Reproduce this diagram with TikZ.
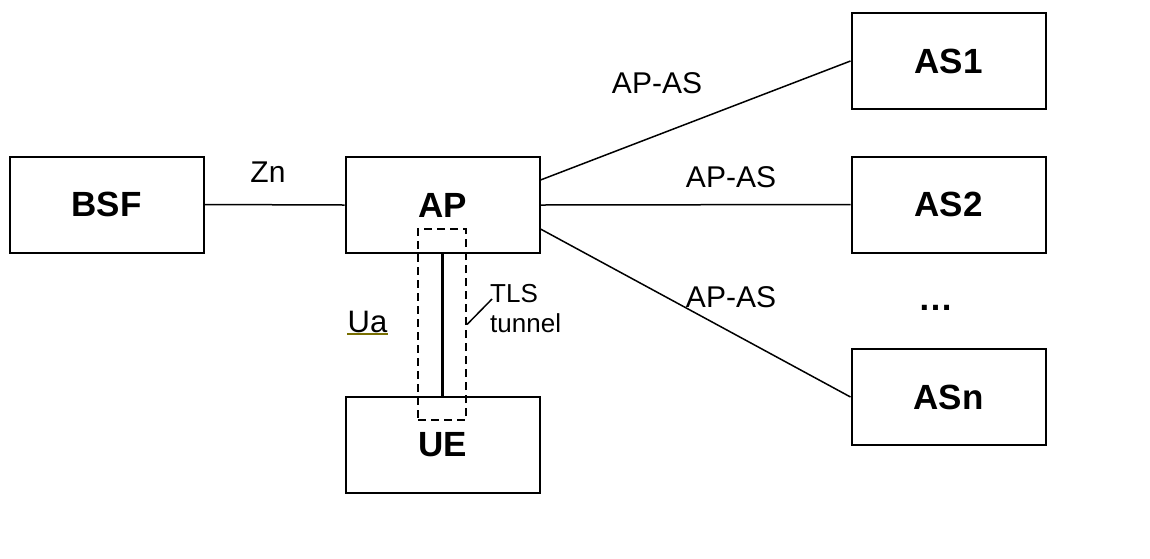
\documentclass[tikz,border=0pt]{standalone}
\usepackage{fontspec}
\setmainfont{Liberation Sans}
\definecolor{uaolive}{RGB}{120,110,0}
\begin{document}
\begin{tikzpicture}[x=1pt, y=-1pt,
        entity/.style={draw, line width=2pt, minimum width=194pt, minimum height=96pt, inner sep=0pt,
            font=\fontsize{35}{42}\selectfont\bfseries},
        iface/.style={inner sep=0pt, font=\fontsize{30}{36}\selectfont},
        link/.style={line width=1.5pt},
        tunnelbox/.style={draw, line width=2pt, dash pattern=on 8pt off 5pt, minimum width=48pt, minimum height=191pt, inner sep=0pt}]
            \useasboundingbox (0,0) rectangle (1150,558);

            \node[entity] (bsf) at (106.5,204.5) {BSF};
            \node[entity] (ap) at (442.5,205) {AP};
            \node[entity] (ue) at (442.5,444.5) {UE};
            \node[entity] (as1) at (948.5,61) {AS1};
            \node[entity] (as2) at (948.5,204.5) {AS2};
            \node[entity] (asn) at (948.5,397) {ASn};

            \draw[link] (bsf.east) -- (ap.west);
            \draw[link] ([yshift=25pt]ap.east) -- (as1.west);
            \draw[link] (ap.east) -- (as2.west);
            \draw[link] ([yshift=-24pt]ap.east) -- (asn.west);
            \draw[link, line width=2.2pt] (ap.south) -- (ue.north);

            \node[iface, anchor=base] (zn) at (268,182) {Zn};
            \node[iface, anchor=base] (apas1) at (657,93) {AP-AS};
            \node[iface, anchor=base] (apas2) at (731,187) {AP-AS};
            \node[iface, anchor=base] (apasn) at (731,307) {AP-AS};
            \node[iface, anchor=base, font=\fontsize{35}{42}\selectfont\bfseries] (more) at (936,310) {…};

            % Ua reference point, underlined
            \node[iface, anchor=base, font=\fontsize{31}{36}\selectfont] (ua) at (367.5,332) {Ua};
            \draw[uaolive, line width=2pt] ([yshift=-2pt]ua.base west) -- ([yshift=-2pt]ua.base east);

            % TLS tunnel between UE and AP
            \node[tunnelbox] (tls) at (442,324.5) {};
            \node[inner sep=0pt, anchor=north west, align=left, font=\fontsize{26}{30}\selectfont] (tlstext) at (490,284) {TLS\\tunnel};
            \coordinate (tick) at (492,299);
            \draw[link] (tls.east) -- (tick);
        \end{tikzpicture}
\end{document}
